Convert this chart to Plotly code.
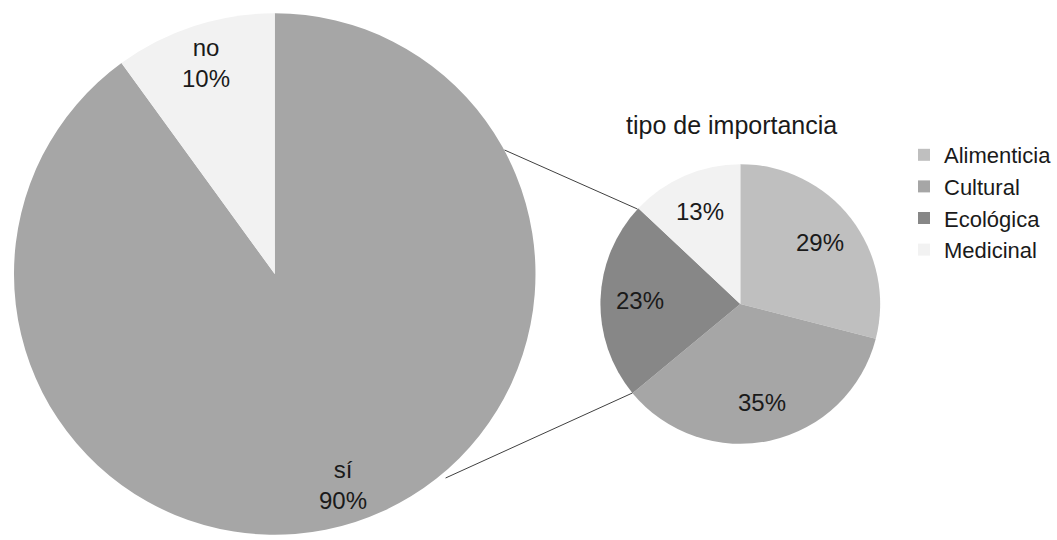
import math
import plotly.graph_objects as go

W, H = 1057, 540

# ---- data ----
main_labels = ["sí", "no"]
main_values = [90, 10]
main_colors = ["#a6a6a6", "#f2f2f2"]

sub_labels = ["Alimenticia", "Cultural", "Ecológica", "Medicinal"]
sub_values = [29, 35, 23, 13]
sub_colors = ["#bfbfbf", "#a6a6a6", "#878787", "#f2f2f2"]

sub_title = "tipo de importancia"

FONT = "Liberation Sans, Arial, sans-serif"

# geometry (pixels)
big_c, big_r = (275, 274), 261
small_c, small_r = (741, 304), 140


def px_dom(c, r):
    x0, x1 = (c[0] - r) / W, (c[0] + r) / W
    y0, y1 = 1 - (c[1] + r) / H, 1 - (c[1] - r) / H
    return dict(x=[x0, x1], y=[y0, y1])


fig = go.Figure()
fig.add_trace(go.Pie(
    labels=main_labels, values=main_values, sort=False, direction="clockwise",
    rotation=0, marker=dict(colors=main_colors, line=dict(width=0)),
    textinfo="none", hoverinfo="label+percent", showlegend=False,
    domain=px_dom(big_c, big_r),
))
fig.add_trace(go.Pie(
    labels=sub_labels, values=sub_values, sort=False, direction="clockwise",
    rotation=0, marker=dict(colors=sub_colors, line=dict(width=0)),
    textinfo="none", hoverinfo="label+percent", showlegend=True,
    domain=px_dom(small_c, small_r),
))


def label_pos(values, c, r, frac):
    tot = sum(values)
    out = []
    cum = 0
    for v in values:
        mid = (cum + v / 2) / tot * 2 * math.pi
        cum += v
        x = c[0] + frac * r * math.sin(mid)
        y = c[1] - frac * r * math.cos(mid)
        out.append((x, y, round(100 * v / tot)))
    return out


def ann(x, y, text, size):
    return dict(x=x / W, y=1 - y / H, xref="paper", yref="paper",
                xanchor="center", yanchor="middle", text=text, showarrow=False,
                font=dict(family=FONT, size=size, color="#1a1a1a"))


annotations = []
for (x, y, p), lab in zip(label_pos(main_values, big_c, big_r, 0.85), main_labels):
    annotations.append(ann(x, y, f"{lab}<br>{p}%", 24))
for (x, y, p) in label_pos(sub_values, small_c, small_r, 0.72):
    annotations.append(ann(x, y, f"{p}%", 24))
annotations.append(ann(732, 125, sub_title, 25))

shapes = [
    dict(type="line", xref="paper", yref="paper",
         x0=505 / W, y0=1 - 150 / H, x1=638 / W, y1=1 - 209 / H,
         line=dict(color="#404040", width=1)),
    dict(type="line", xref="paper", yref="paper",
         x0=446 / W, y0=1 - 478 / H, x1=633 / W, y1=1 - 393 / H,
         line=dict(color="#404040", width=1)),
]

fig.update_layout(
    width=W, height=H, margin=dict(l=0, r=0, t=0, b=0),
    paper_bgcolor="white", plot_bgcolor="white",
    annotations=annotations, shapes=shapes,
    legend=dict(x=905 / W, y=1 - 134 / H, xanchor="left", yanchor="top",
                font=dict(family=FONT, size=22, color="#1a1a1a"),
                itemwidth=30, bgcolor="rgba(0,0,0,0)", traceorder="normal"),
)

fig.write_html("out.html")
